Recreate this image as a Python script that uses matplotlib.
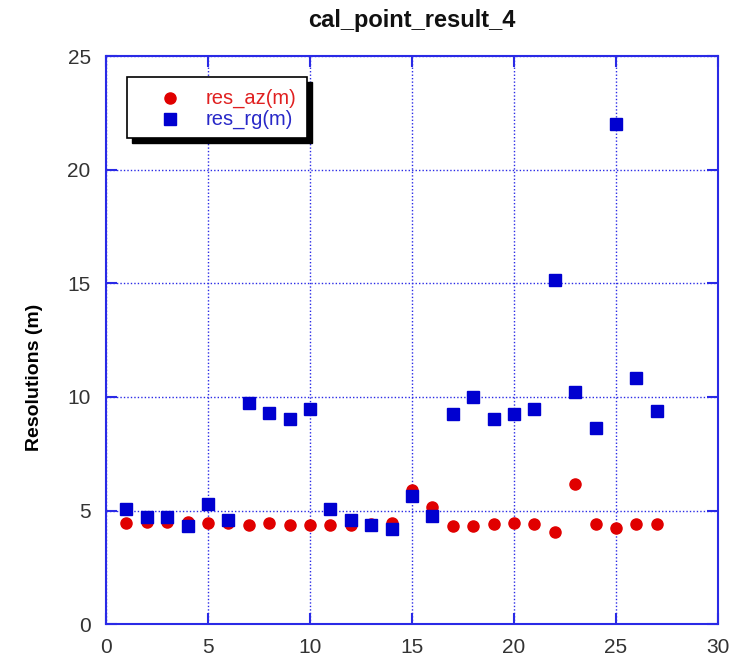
import matplotlib
matplotlib.use("Agg")
import matplotlib.pyplot as plt
from matplotlib.patches import Rectangle
from matplotlib.lines import Line2D

plt.rcParams['font.family'] = ['Liberation Sans', 'DejaVu Sans']

# Calibration point index
point_idx = list(range(1, 28))

# Azimuth resolution (m)
res_az = [4.44, 4.50, 4.50, 4.50, 4.44, 4.44, 4.36, 4.44, 4.36, 4.36,
          4.36, 4.35, 4.40, 4.44, 5.90, 5.14, 4.32, 4.32, 4.39, 4.46,
          4.39, 4.07, 6.17, 4.39, 4.21, 4.39, 4.39]

# Range resolution (m)
res_rg = [5.05, 4.70, 4.70, 4.32, 5.27, 4.58, 9.75, 9.31, 9.02, 9.47,
          5.05, 4.58, 4.36, 4.17, 5.65, 4.76, 9.24, 9.99, 9.02, 9.24,
          9.46, 15.15, 10.20, 8.65, 22.03, 10.84, 9.38]

x_ticks = [0, 5, 10, 15, 20, 25, 30]
y_ticks = [0, 5, 10, 15, 20, 25]

AX_BLUE = '#2a2ae6'
RED = '#e00000'
BLUE = '#0000d0'

fig = plt.figure(figsize=(7.49, 6.59), dpi=100)
ax = fig.add_axes([0.1415, 0.0531, 0.8171, 0.8612])

ax.plot(point_idx, res_rg, 's', color=BLUE, markersize=8, zorder=3)
ax.plot(point_idx, res_az, 'o', color=RED, markersize=8, zorder=2)

ax.set_xlim(0, 30)
ax.set_ylim(0, 25)
ax.set_xticks(x_ticks)
ax.set_yticks(y_ticks)
ax.tick_params(direction='in', length=8, width=1.5, color=AX_BLUE,
               top=True, right=True, labelsize=15, labelcolor='#333333')
ax.tick_params(axis='y', pad=11)
ax.tick_params(axis='x', pad=10)
for s in ax.spines.values():
    s.set_color(AX_BLUE)
    s.set_linewidth(1.5)
ax.grid(True, color=AX_BLUE, linestyle=(0, (1, 1.5)), linewidth=1.0)
ax.set_axisbelow(True)

fig.text(412 / 749, 1 - 27 / 659, 'cal_point_result_4', fontsize=17,
         fontweight='bold', ha='center', va='baseline', color='#111111')
ax.set_ylabel('Resolutions (m)', fontsize=14, fontweight='bold', va='center')
ax.yaxis.set_label_coords(-0.116, 0.435)

# Legend box with a solid drop shadow
tr = ax.transAxes
x0, y0, w, h = 0.0343, 0.8564, 0.2941, 0.108
ax.add_patch(Rectangle((x0 + 0.0085, y0 - 0.009), w, h, transform=tr,
                       facecolor='black', edgecolor='black', zorder=5, clip_on=False))
ax.add_patch(Rectangle((x0, y0), w, h, transform=tr, facecolor='white',
                       edgecolor='black', linewidth=1.2, zorder=6, clip_on=False))
ax.add_line(Line2D([0.1046], [0.9260], transform=tr, marker='o', color=RED,
                   markersize=8, linestyle='none', zorder=7))
ax.add_line(Line2D([0.1046], [0.8890], transform=tr, marker='s', color=BLUE,
                   markersize=8, linestyle='none', zorder=7))
ax.text(0.163, 0.9260, 'res_az(m)', transform=tr, color='#e02020', fontsize=14.5,
        va='center', ha='left', zorder=7)
ax.text(0.163, 0.8890, 'res_rg(m)', transform=tr, color='#2828c8', fontsize=14.5,
        va='center', ha='left', zorder=7)

fig.savefig('out.png', dpi=100)
